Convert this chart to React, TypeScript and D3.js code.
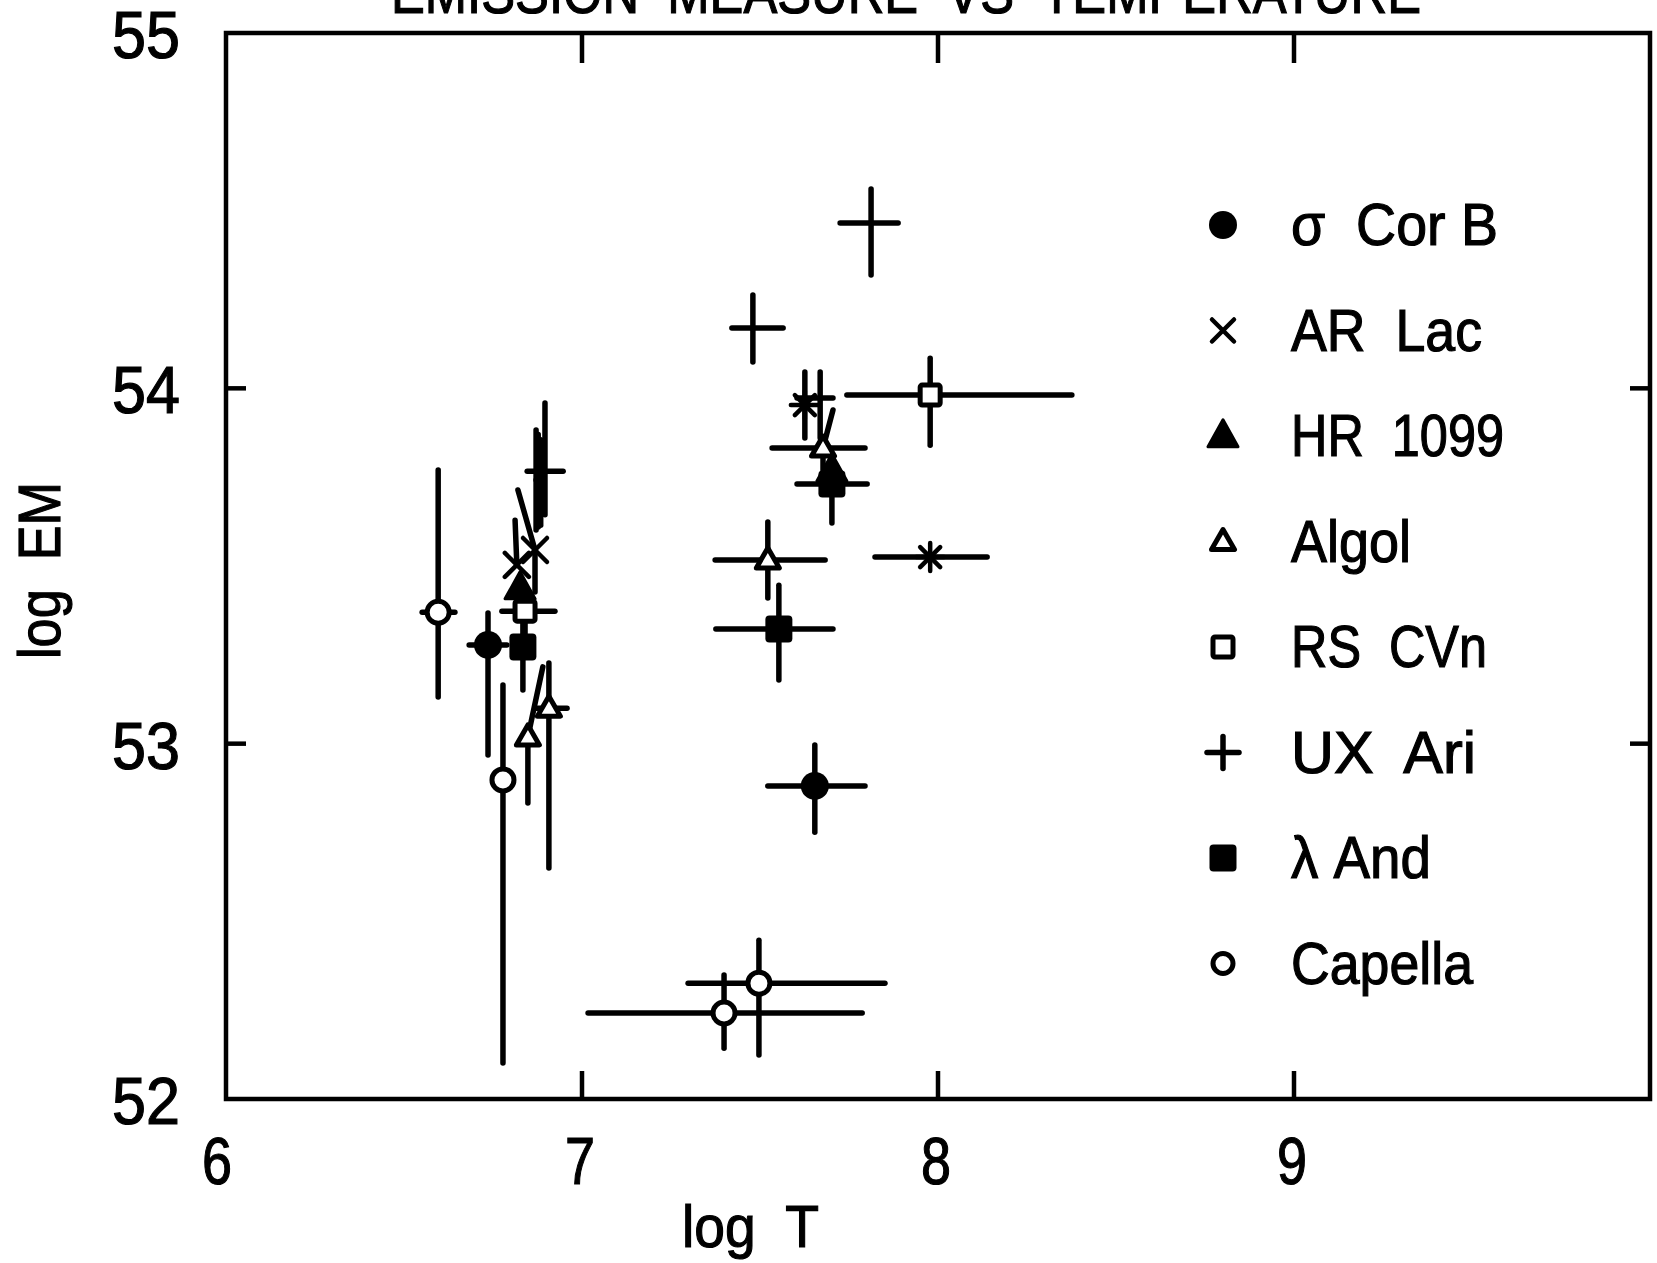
import React from 'react';
import * as d3 from 'd3';

// [logT, logEM, xLo, xHi, yLo, yHi, xTop?]  (xTop = x at the upper end of a slanted bar)
type Pt = [number, number, number | null, number | null, number | null, number | null, number?];

const sigmaCorB: Pt[] = [
  [6.736, 53.278, 6.683, 6.789, 52.968, 53.368],
  [7.654, 52.881, 7.522, 7.795, 52.751, 52.996],
];
const arLac: Pt[] = [
  [6.817, 53.503, null, null, null, 53.629, 6.812],
  [6.868, 53.545, null, null, 53.427, 53.714, 6.82],
];
const hr1099: Pt[] = [
  [6.826, 53.438, null, null, null, null],
  [7.702, 53.77, null, null, null, null],
];
const algol: Pt[] = [
  [7.522, 53.517, 7.374, 7.683, 53.41, 53.624],
  [7.677, 53.832, 7.534, 7.795, 53.77, 53.939, 7.705],
  [6.848, 53.019, null, null, 52.833, 53.216, 6.89],
  [6.907, 53.1, 6.868, 6.958, 52.65, 53.227],
];
const rsCVn: Pt[] = [
  [7.978, 53.981, 7.744, 8.376, 53.84, 54.085],
  [6.84, 53.373, 6.775, 6.924, 53.292, null],
];
const uxAri: Pt[] = [
  [7.812, 54.465, 7.725, 7.888, 54.319, 54.561],
  [7.48, 54.17, 7.421, 7.565, 54.074, 54.263],
  [6.896, 53.767, 6.846, 6.947, 53.644, 53.959],
  [6.871, 53.742, null, null, 53.601, 53.883],
  [6.877, 53.735, null, null, 53.61, 53.87],
  [6.884, 53.728, null, null, 53.615, 53.855],
  [7.669, 53.973, 7.604, 7.705, 53.86, 54.046],
];
const lambdaAnd: Pt[] = [
  [6.834, 53.272, null, null, 53.151, 53.373],
  [7.553, 53.323, 7.376, 7.705, 53.179, 53.446],
  [7.702, 53.731, 7.604, 7.801, 53.621, null],
];
const capella: Pt[] = [
  [6.596, 53.37, 6.551, 6.643, 53.131, 53.77],
  [6.778, 52.898, null, null, 52.101, 53.165],
  [7.497, 52.326, 7.298, 7.851, 52.124, 52.447],
  [7.399, 52.242, 7.017, 7.787, 52.143, 52.349],
];
const asterisks: Pt[] = [
  [7.978, 53.525, 7.823, 8.138, null, null],
  [7.626, 53.953, null, null, 53.86, 54.046],
];

const xTicks = [7, 8, 9];
const yTicks = [53, 54];
const xTickLabels = ['6', '7', '8', '9'];
const yTickLabels = ['52', '53', '54', '55'];

const legendLabels = ['σ  Cor B', 'AR  Lac', 'HR  1099', 'Algol', 'RS  CVn', 'UX  Ari', 'λ And', 'Capella'];
const legendWidths = [207, 191, 213, 120, 196, 185, 140, 182];

const W = 1657;
const H = 1263;
const FONT = 'Liberation Sans, Arial, sans-serif';

const xScale = d3.scaleLinear().domain([6, 10]).range([226, 1650]);
const yScale = d3.scaleLinear().domain([52, 55]).range([1099, 33]);

type Kind = 'fcircle' | 'cross' | 'ftri' | 'otri' | 'osq' | 'plus' | 'fsq' | 'ocircle' | 'star';

const Marker = ({ kind, x, y, legend = false }: { kind: Kind; x: number; y: number; legend?: boolean }) => {
  const sw = 5;
  switch (kind) {
    case 'fcircle':
      return <circle cx={x} cy={y} r={14} fill="#000" />;
    case 'ocircle':
      return <circle cx={x} cy={y} r={legend ? 10 : 11} fill="#fff" stroke="#000" strokeWidth={sw} />;
    case 'osq': {
      const s = 20;
      return <rect x={x - s / 2} y={y - s / 2} width={s} height={s} fill="#fff" stroke="#000" strokeWidth={sw} rx={2} />;
    }
    case 'fsq': {
      const s = 27;
      return <rect x={x - s / 2} y={y - s / 2} width={s} height={s} fill="#000" rx={4} />;
    }
    case 'ftri': {
      const w = 30, h = 27;
      return (
        <path d={`M${x},${y - h * 0.6}L${x + w / 2},${y + h * 0.4}L${x - w / 2},${y + h * 0.4}Z`}
          fill="#000" stroke="#000" strokeWidth={3} strokeLinejoin="round" />
      );
    }
    case 'otri': {
      const w = 23, h = 20;
      return (
        <path d={`M${x},${y - h * 0.6}L${x + w / 2},${y + h * 0.4}L${x - w / 2},${y + h * 0.4}Z`}
          fill="#fff" stroke="#000" strokeWidth={sw} strokeLinejoin="round" />
      );
    }
    case 'cross': {
      const a = legend ? 11 : 12;
      return (
        <g stroke="#000" strokeWidth={4.5} strokeLinecap="round">
          <line x1={x - a} y1={y - a} x2={x + a} y2={y + a} />
          <line x1={x - a} y1={y + a} x2={x + a} y2={y - a} />
        </g>
      );
    }
    case 'plus': {
      if (!legend) return null;
      const a = 16;
      return (
        <g stroke="#000" strokeWidth={5.5} strokeLinecap="round">
          <line x1={x - a} y1={y} x2={x + a} y2={y} />
          <line x1={x} y1={y - a} x2={x} y2={y + a} />
        </g>
      );
    }
    case 'star': {
      const a = 14, b = 10;
      return (
        <g stroke="#000" strokeWidth={4.5} strokeLinecap="round">
          <line x1={x} y1={y - a} x2={x} y2={y + a} />
          <line x1={x - a} y1={y} x2={x + a} y2={y} />
          <line x1={x - b} y1={y - b} x2={x + b} y2={y + b} />
          <line x1={x - b} y1={y + b} x2={x + b} y2={y - b} />
        </g>
      );
    }
  }
  return null;
};

const seriesList: { kind: Kind; data: Pt[] }[] = [
  { kind: 'fcircle', data: sigmaCorB },
  { kind: 'cross', data: arLac },
  { kind: 'otri', data: algol },
  { kind: 'osq', data: rsCVn },
  { kind: 'plus', data: uxAri },
  { kind: 'star', data: asterisks },
  { kind: 'fsq', data: lambdaAnd },
  { kind: 'ftri', data: hr1099 },
  { kind: 'ocircle', data: capella },
];

const legendKinds: Kind[] = ['fcircle', 'cross', 'ftri', 'otri', 'osq', 'plus', 'fsq', 'ocircle'];

const ErrorBars = ({ p }: { p: Pt }) => {
  const [x, y, xLo, xHi, yLo, yHi, xTop] = p;
  const cx = xScale(x);
  const cy = yScale(y);
  return (
    <g stroke="#000" strokeWidth={5.5} strokeLinecap="round" fill="none">
      {xLo != null && xHi != null && <line x1={xScale(xLo)} y1={cy} x2={xScale(xHi)} y2={cy} />}
      {yLo != null && <line x1={cx} y1={cy} x2={cx} y2={yScale(yLo)} />}
      {yHi != null && <line x1={cx} y1={cy} x2={xScale(xTop ?? x)} y2={yScale(yHi)} />}
    </g>
  );
};

const Txt = ({ x, y, size, len, children, rotate }: any) => (
  <text
    x={x}
    y={y}
    fontFamily={FONT}
    fontSize={size}
    textLength={len}
    lengthAdjust="spacingAndGlyphs"
    transform={rotate ? `rotate(${rotate},${x},${y})` : undefined}
    style={{ whiteSpace: 'pre' }}
    fill="#000"
    stroke="#000"
    strokeWidth={1.2}
  >
    {children}
  </text>
);

export default function App() {
  const x0 = xScale(6), x1 = xScale(10);
  const y0 = yScale(55), y1 = yScale(52);
  return (
    <svg width={W} height={H} style={{ position: 'absolute', left: 0, top: 0, background: '#fff' }}>
      <rect x={0} y={0} width={W} height={H} fill="#fff" />
      {/* title, cut off at the top of the page as in the scan */}
      <Txt x={391} y={13} size={60} len={1030}>EMISSION  MEASURE  VS  TEMPERATURE</Txt>

      {/* frame */}
      <rect x={x0} y={y0} width={x1 - x0} height={y1 - y0} fill="none" stroke="#000" strokeWidth={4.5} />
      {xTicks.map((t) => (
        <g key={'xt' + t} stroke="#000" strokeWidth={4.5}>
          <line x1={xScale(t)} y1={y1} x2={xScale(t)} y2={y1 - 28} />
          <line x1={xScale(t)} y1={y0} x2={xScale(t)} y2={y0 + 30} />
        </g>
      ))}
      {yTicks.map((t) => (
        <g key={'yt' + t} stroke="#000" strokeWidth={4.5}>
          <line x1={x0} y1={yScale(t)} x2={x0 + 20} y2={yScale(t)} />
          <line x1={x1} y1={yScale(t)} x2={x1 - 20} y2={yScale(t)} />
        </g>
      ))}

      {/* tick labels */}
      {xTickLabels.map((s) => (
        <Txt key={'xl' + s} x={xScale(+s) - (s === '6' ? 24 : 17)} y={1184} size={66} len={30}>{s}</Txt>
      ))}
      {yTickLabels.map((s) => (
        <Txt key={'yl' + s} x={112} y={yScale(+s) + 25} size={66} len={68}>{s}</Txt>
      ))}

      {/* axis titles */}
      <Txt x={682} y={1247} size={60} len={137}>log  T</Txt>
      <Txt x={60} y={659} size={60} len={177} rotate={-90}>log  EM</Txt>

      {/* error bars */}
      {seriesList.map((s, i) => (
        <g key={'eb' + i}>{s.data.map((p, j) => <ErrorBars key={j} p={p} />)}</g>
      ))}
      {/* symbols */}
      {seriesList.map((s, i) => (
        <g key={'sy' + i}>
          {s.data.map((p, j) => <Marker key={j} kind={s.kind} x={xScale(p[0])} y={yScale(p[1])} />)}
        </g>
      ))}

      {/* legend */}
      {legendLabels.map((lab, i) => {
        const my = 225 + i * 105.5;
        return (
          <g key={'lg' + i}>
            <Marker kind={legendKinds[i]} x={1223} y={my} legend />
            <Txt x={1291} y={my + 20} size={60} len={legendWidths[i]}>{lab}</Txt>
          </g>
        );
      })}
    </svg>
  );
}
